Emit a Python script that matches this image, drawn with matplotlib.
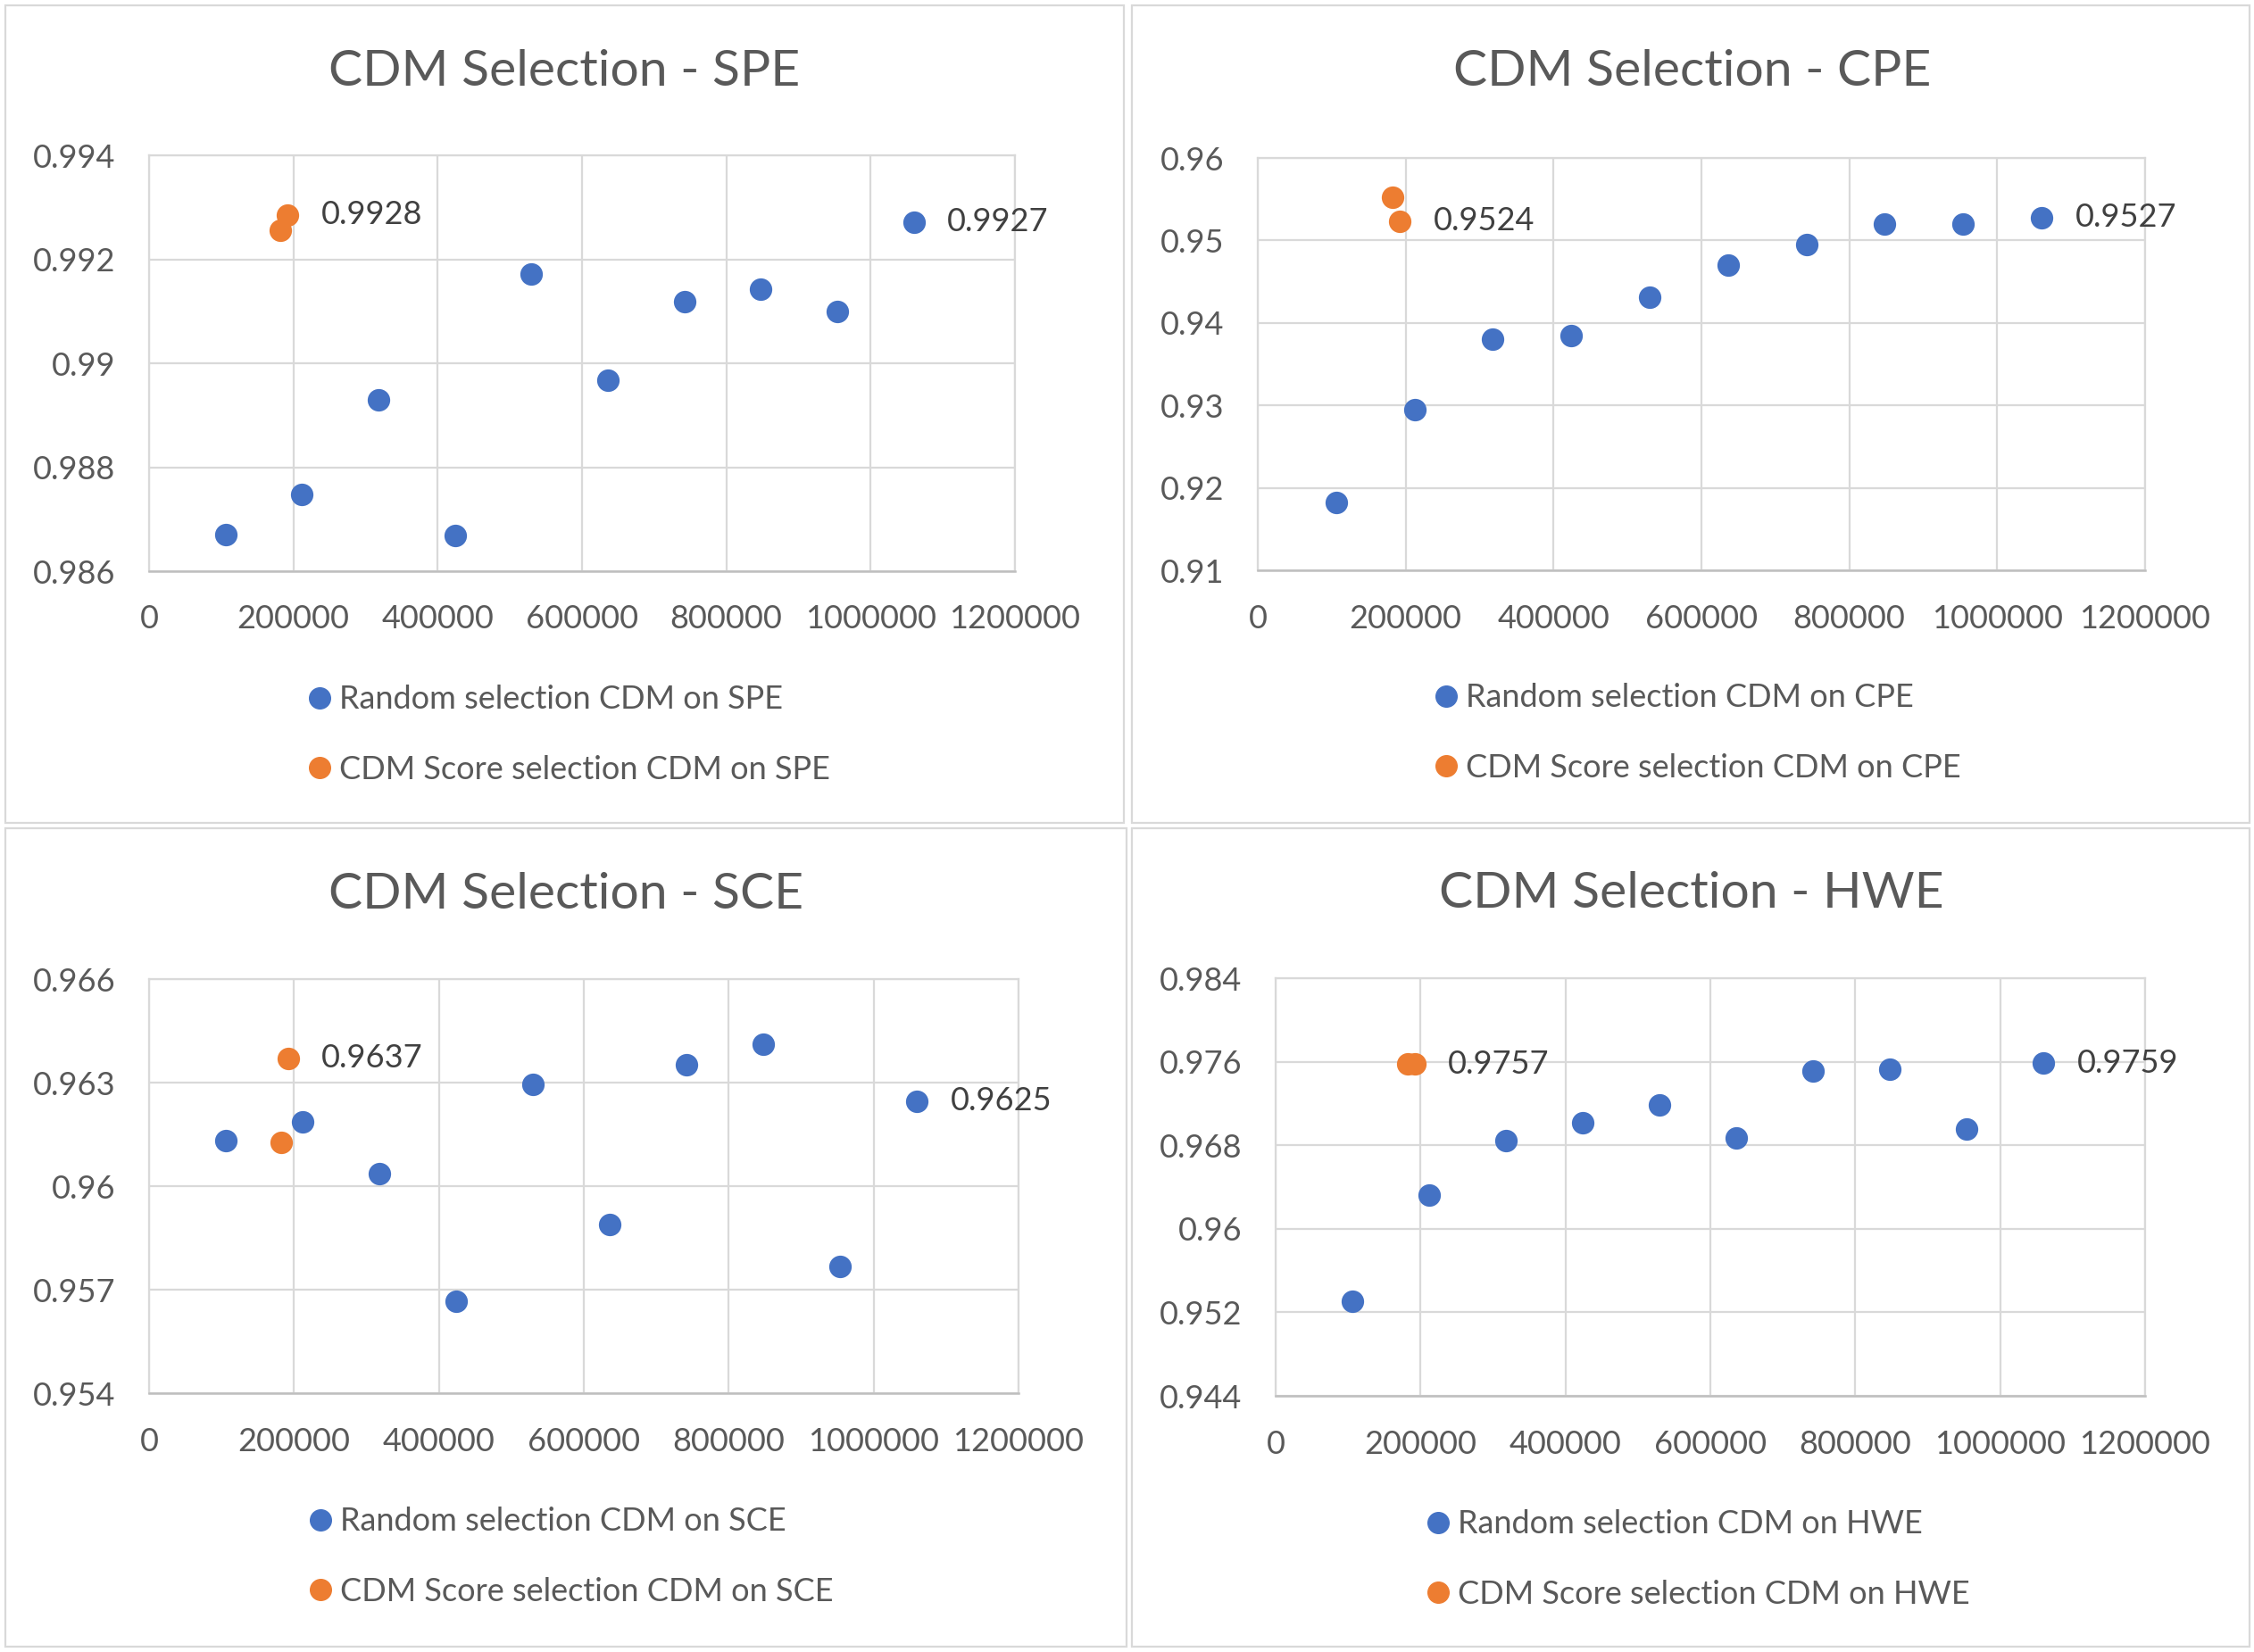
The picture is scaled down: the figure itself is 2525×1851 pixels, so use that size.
import matplotlib.pyplot as plt
from matplotlib.patches import Rectangle
from matplotlib.lines import Line2D

plt.rcParams['font.family'] = ['Lato', 'DejaVu Sans']

BLUE = '#4472C4'
ORANGE = '#ED7D31'
GRID = '#D9D9D9'
TICK_COLOR = '#595959'
LABEL_COLOR = '#404040'

# x = number of CDM used (same for all four charts)
random_x = [106000, 212000, 318000, 424000, 530000, 636000, 742000, 848000, 954000, 1060000]
score_x = [182000, 192000]
x_ticks = [0, 200000, 400000, 600000, 800000, 1000000, 1200000]

# values
spe_random = [0.98671, 0.98748, 0.98930, 0.98668, 0.99172, 0.98967, 0.99119, 0.99143, 0.99099, 0.99272]
spe_score = [0.99255, 0.99285]
spe_ticks = [0.986, 0.988, 0.99, 0.992, 0.994]
spe_labels = ['0.9928', '0.9927']

cpe_random = [0.91825, 0.92950, 0.93800, 0.93845, 0.94312, 0.94702, 0.94951, 0.95201, 0.95194, 0.95278]
cpe_score = [0.95520, 0.95233]
cpe_ticks = [0.91, 0.92, 0.93, 0.94, 0.95, 0.96]
cpe_labels = ['0.9524', '0.9527']

sce_random = [0.96133, 0.96185, 0.96035, 0.95666, 0.96295, 0.95889, 0.96353, 0.96411, 0.95766, 0.96246]
sce_score = [0.96128, 0.96370]
sce_ticks = [0.954, 0.957, 0.96, 0.963, 0.966]
sce_labels = ['0.9637', '0.9625']

hwe_random = [0.95308, 0.96322, 0.96841, 0.97013, 0.97184, 0.96867, 0.97512, 0.97527, 0.96957, 0.97588]
hwe_score = [0.97578, 0.97578]
hwe_ticks = [0.944, 0.952, 0.96, 0.968, 0.976, 0.984]
hwe_labels = ['0.9757', '0.9759']

W, H = 2525, 1851


def fx(px):
    return px / W


def fy(py):
    return 1 - py / H


panels = [
    # name, random, score, yticks, labels, axes box (px), title pos (px), legend anchor (px), border (px)
    ('SPE', spe_random, spe_score, spe_ticks, spe_labels,
     (167, 174, 1137, 640), (632, 80), (340, 823), (6, 6, 1259, 922)),
    ('CPE', cpe_random, cpe_score, cpe_ticks, cpe_labels,
     (1409, 177, 2403, 639), (1896, 80), (1602, 821), (1268, 6, 2520, 922)),
    ('SCE', sce_random, sce_score, sce_ticks, sce_labels,
     (167, 1097, 1141, 1561), (634, 1002), (341, 1744), (6, 928, 1262, 1845)),
    ('HWE', hwe_random, hwe_score, hwe_ticks, hwe_labels,
     (1429, 1096, 2403, 1564), (1895, 1001), (1593, 1747), (1268, 928, 2520, 1845)),
]

fig = plt.figure(figsize=(W / 100, H / 100), dpi=100)
fig.patch.set_facecolor('white')

for name, rnd, scr, yticks, labels, box, tpos, lpos, border in panels:
    # chart area border
    fig.add_artist(Rectangle((fx(border[0]), fy(border[3])),
                             fx(border[2] - border[0]), (border[3] - border[1]) / H,
                             transform=fig.transFigure, fill=False,
                             edgecolor=GRID, linewidth=1.6))

    ax = fig.add_axes([fx(box[0]), fy(box[3]), fx(box[2] - box[0]), (box[3] - box[1]) / H])
    ax.scatter(random_x, rnd, s=330, color=BLUE, zorder=3, linewidths=0)
    ax.scatter(score_x, scr, s=330, color=ORANGE, zorder=3, linewidths=0)

    # data labels (best CDM score point and last random point)
    ax.annotate(labels[0], (score_x[1], scr[1]), xytext=(27, 0), textcoords='offset points',
                va='center', ha='left', fontsize=26, color=LABEL_COLOR)
    ax.annotate(labels[1], (random_x[-1], rnd[-1]), xytext=(27, 0), textcoords='offset points',
                va='center', ha='left', fontsize=26, color=LABEL_COLOR)

    ax.set_xlim(x_ticks[0], x_ticks[-1])
    ax.set_ylim(yticks[0], yticks[-1])
    ax.set_xticks(x_ticks)
    ax.set_xticklabels([str(v) for v in x_ticks])
    ax.set_yticks(yticks)
    ax.set_yticklabels([f'{v:g}' for v in yticks])
    ax.tick_params(axis='both', length=0, labelsize=26, labelcolor=TICK_COLOR)
    ax.tick_params(axis='y', pad=27)
    ax.tick_params(axis='x', pad=27)
    ax.grid(True, color=GRID, linewidth=1.6, zorder=0)
    ax.set_axisbelow(True)
    for side in ['top', 'right', 'left']:
        ax.spines[side].set_color(GRID)
        ax.spines[side].set_linewidth(1.6)
    ax.spines['bottom'].set_color('#BFBFBF')
    ax.spines['bottom'].set_linewidth(1.8)

    fig.text(fx(tpos[0]), fy(tpos[1]), f'CDM Selection - {name}', ha='center', va='center',
             fontsize=41, color=TICK_COLOR)

    handles = [
        Line2D([], [], linestyle='none', marker='o', markersize=17, color=BLUE,
               label=f'Random selection CDM on {name}'),
        Line2D([], [], linestyle='none', marker='o', markersize=17, color=ORANGE,
               label=f'CDM Score selection CDM on {name}'),
    ]
    fig.legend(handles=handles, loc='center left', bbox_to_anchor=(fx(lpos[0]), fy(lpos[1])),
               bbox_transform=fig.transFigure, frameon=False, fontsize=26, borderpad=0,
               borderaxespad=0, handlelength=1.0, handletextpad=0.12, labelspacing=1.25,
               labelcolor=TICK_COLOR)

fig.savefig('out.png', dpi=100)
